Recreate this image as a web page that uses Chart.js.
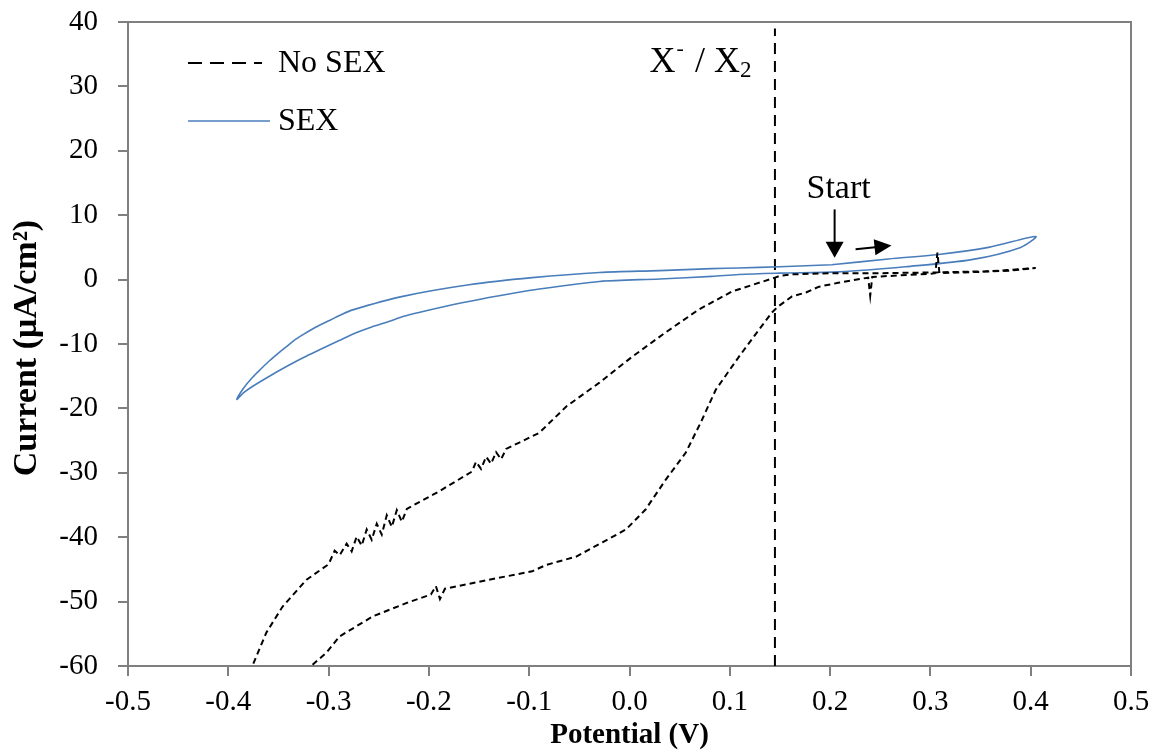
<!DOCTYPE html>
<html>
<head>
<meta charset="utf-8">
<script src="https://cdn.jsdelivr.net/npm/chart.js@4.4.1/dist/chart.umd.min.js"></script>
<style>
  html, body { margin: 0; padding: 0; background: #fff; }
</style>
</head>
<body>
<canvas id="cv" width="1158" height="754"></canvas>
<script>
// axis ticks
const xTickValues = [-0.5, -0.4, -0.3, -0.2, -0.1, 0.0, 0.1, 0.2, 0.3, 0.4, 0.5];
const xTickLabels = ['-0.5', '-0.4', '-0.3', '-0.2', '-0.1', '0.0', '0.1', '0.2', '0.3', '0.4', '0.5'];
const yTickValues = [-60, -50, -40, -30, -20, -10, 0, 10, 20, 30, 40];
const yTickLabels = ['-60', '-50', '-40', '-30', '-20', '-10', '0', '10', '20', '30', '40'];

// "SEX" loop, potential (V) and current (uA/cm2)
const sexV = [0.2015, 0.258, 0.308, 0.358, 0.405, 0.390, 0.341, 0.275, 0.2085, 0.150, 0.109, 0.082, 0.030,
  -0.030, -0.093, -0.130, -0.167, -0.210, -0.225, -0.240, -0.256, -0.272, -0.290, -0.309, -0.325, -0.342,
  -0.359, -0.376, -0.385, -0.3915,
  -0.385, -0.376, -0.367, -0.359, -0.350, -0.342, -0.334, -0.326, -0.313, -0.300, -0.288, -0.276,
  -0.226, -0.160, -0.097, -0.030, 0.030, 0.082, 0.109, 0.150, 0.2015];
const sexI = [2.3, 3.2, 3.9, 5.0, 6.7, 5.0, 3.1, 2.0, 1.2, 1.0, 0.8, 0.5, 0.1,
  -0.3, -1.55, -2.5, -3.6, -5.1, -5.7, -6.5, -7.3, -8.2, -9.5, -10.9, -12.1, -13.5,
  -15.0, -16.6, -17.6, -18.6,
  -16.9, -15.2, -13.8, -12.6, -11.4, -10.4, -9.4, -8.6, -7.4, -6.4, -5.5, -4.7,
  -2.6, -0.8, 0.3, 1.1, 1.4, 1.7, 1.8, 2.0, 2.3];

// "No SEX" scan
const noSexV = [-0.316, -0.302, -0.289, -0.256, -0.222, -0.198, -0.193, -0.189, -0.184, -0.140,
  -0.097, -0.083, -0.053, -0.027, -0.0035, 0.016, 0.036, 0.056, 0.071, 0.086,
  0.109, 0.129, 0.142, 0.148, 0.162, 0.176, 0.189, 0.208, 0.230, 0.238,
  0.240, 0.242, 0.251, 0.300, 0.305, 0.307, 0.309, 0.350, 0.380, 0.405,
  0.360, 0.300, 0.250, 0.200, 0.160, 0.150, 0.145, 0.102, 0.069, 0.036,
  0.0025, -0.030, -0.063, -0.090, -0.123, -0.128, -0.133, -0.138, -0.143, -0.148,
  -0.153, -0.157, -0.190, -0.222, -0.227, -0.232, -0.237, -0.242, -0.247, -0.252,
  -0.257, -0.262, -0.267, -0.272, -0.277, -0.282, -0.289, -0.294, -0.300, -0.322,
  -0.346, -0.362, -0.372, -0.376];
const noSexI = [-59.8, -57.9, -55.4, -52.3, -50.2, -48.9, -47.6, -49.6, -48.0, -46.6,
  -45.3, -44.3, -43.0, -40.8, -38.8, -35.7, -31.1, -26.9, -22.2, -17.1,
  -12.0, -7.8, -5.1, -4.2, -2.6, -2.0, -1.1, -0.5, 0.1, 0.3,
  -2.5, 0.4, 0.5, 0.9, 1.0, 4.2, 1.0, 1.2, 1.4, 1.8,
  1.3, 1.1, 1.0, 1.0, 0.8, 0.6, 0.3, -1.86, -4.66, -8.2,
  -12.0, -16.0, -19.7, -23.8, -26.3, -27.9, -26.8, -28.6, -27.5, -29.4,
  -28.3, -29.8, -32.9, -35.6, -37.6, -35.8, -38.4, -36.6, -39.6, -37.9,
  -40.4, -38.8, -41.3, -39.9, -42.2, -41.0, -42.8, -42.1, -44.2, -46.6,
  -50.8, -54.8, -58.5, -60.0];

// X-/X2 marker potential
const markerV = 0.145;
const yTitle = 'Current (\u03bcA/cm\u00b2)';

const serif = '"Liberation Serif", "Times New Roman", serif';
const axisGray = '#7f7f7f';
const blue = '#4a7ebb';

const toPoints = (xs, ys) => xs.map((v, i) => ({ x: v, y: ys[i] }));

const frame = {
  id: 'frame',
  beforeDatasetsDraw(chart) {
    const { ctx, chartArea: a } = chart;
    ctx.save();
    ctx.strokeStyle = axisGray;
    ctx.lineWidth = 2;
    ctx.beginPath();
    ctx.moveTo(a.left - 10, a.top);
    ctx.lineTo(a.right, a.top);
    ctx.lineTo(a.right, a.bottom);
    ctx.stroke();
    ctx.restore();
  }
};

const overlay = {
  id: 'overlay',
  afterDatasetsDraw(chart) {
    const { ctx, scales: { x, y } } = chart;
    ctx.save();

    // y axis title
    ctx.save();
    ctx.translate(27, 348);
    ctx.rotate(-Math.PI / 2);
    ctx.font = 'bold 34px ' + serif;
    ctx.fillStyle = '#000';
    ctx.textAlign = 'center';
    ctx.textBaseline = 'middle';
    ctx.fillText(yTitle, 0, 0);
    ctx.restore();

    // legend
    const rows = [{ ds: chart.data.datasets[0], y: 63 }, { ds: chart.data.datasets[1], y: 121 }];
    rows.forEach(r => {
      ctx.beginPath();
      ctx.strokeStyle = r.ds.borderColor;
      ctx.lineWidth = r.ds.borderWidth;
      ctx.setLineDash(r.ds.borderDash ? [14, 8] : []);
      ctx.moveTo(188, r.y);
      ctx.lineTo(r.ds.borderDash ? 262 : 270, r.y);
      ctx.stroke();
      ctx.setLineDash([]);
      ctx.fillStyle = '#000';
      ctx.font = '32px ' + serif;
      ctx.textBaseline = 'middle';
      ctx.textAlign = 'left';
      ctx.fillText(r.ds.label, 278, r.y + 1);
    });

    // X- / X2 label
    let px = x.getPixelForValue(0.020);
    const py = y.getPixelForValue(32.2);
    ctx.textBaseline = 'alphabetic';
    ctx.font = '36px ' + serif;
    ctx.fillText('X', px, py);
    px += ctx.measureText('X').width + 1;
    ctx.font = '22px ' + serif;
    ctx.fillText('-', px, py - 17);
    px += ctx.measureText('-').width + 2;
    ctx.font = '36px ' + serif;
    ctx.fillText(' / X', px, py);
    px += ctx.measureText(' / X').width;
    ctx.font = '23px ' + serif;
    ctx.fillText('2', px, py + 5);

    // Start label and arrows
    ctx.font = '34px ' + serif;
    ctx.textAlign = 'center';
    ctx.fillText('Start', x.getPixelForValue(0.2085), y.getPixelForValue(12.6));

    const ax = x.getPixelForValue(0.2045);
    const ay0 = y.getPixelForValue(10.9), ay1 = y.getPixelForValue(3.4);
    ctx.strokeStyle = '#000';
    ctx.fillStyle = '#000';
    ctx.lineWidth = 2;
    ctx.beginPath();
    ctx.moveTo(ax, ay0);
    ctx.lineTo(ax, ay1 - 14);
    ctx.stroke();
    ctx.beginPath();
    ctx.moveTo(ax - 9, ay1 - 16);
    ctx.lineTo(ax + 9, ay1 - 16);
    ctx.lineTo(ax, ay1);
    ctx.closePath();
    ctx.fill();

    const bx0 = x.getPixelForValue(0.2254), by0 = y.getPixelForValue(4.7);
    const bx1 = x.getPixelForValue(0.2612), by1 = y.getPixelForValue(5.3);
    const ang = Math.atan2(by1 - by0, bx1 - bx0);
    ctx.beginPath();
    ctx.moveTo(bx0, by0);
    ctx.lineTo(bx1 - 14 * Math.cos(ang), by1 - 14 * Math.sin(ang));
    ctx.stroke();
    ctx.beginPath();
    ctx.moveTo(bx1, by1);
    ctx.lineTo(bx1 - 17 * Math.cos(ang) - 8 * Math.sin(ang), by1 - 17 * Math.sin(ang) + 8 * Math.cos(ang));
    ctx.lineTo(bx1 - 17 * Math.cos(ang) + 8 * Math.sin(ang), by1 - 17 * Math.sin(ang) - 8 * Math.cos(ang));
    ctx.closePath();
    ctx.fill();

    ctx.restore();
  }
};

new Chart(document.getElementById('cv'), {
  type: 'scatter',
  data: {
    datasets: [
      {
        label: 'No SEX',
        data: toPoints(noSexV, noSexI),
        showLine: true,
        borderColor: '#000',
        borderWidth: 2,
        borderDash: [6, 4],
        pointRadius: 0,
        tension: 0
      },
      {
        label: 'SEX',
        data: toPoints(sexV, sexI),
        showLine: true,
        borderColor: blue,
        borderWidth: 1.6,
        pointRadius: 0,
        tension: 0.3
      },
      {
        label: '',
        data: [{ x: markerV, y: -60 }, { x: markerV, y: 39 }],
        showLine: true,
        borderColor: '#000',
        borderWidth: 2,
        borderDash: [11, 7],
        pointRadius: 0
      }
    ]
  },
  options: {
    responsive: false,
    animation: false,
    layout: { padding: { top: 22, right: 27, left: 0, bottom: 0 } },
    plugins: {
      legend: { display: false },
      tooltip: { enabled: false }
    },
    scales: {
      x: {
        type: 'linear',
        min: -0.5,
        max: 0.5,
        afterBuildTicks: s => { s.ticks = xTickValues.map(v => ({ value: v })); },
        afterFit: s => { s.height = 88; s.paddingLeft = 0; s.paddingRight = 0; },
        ticks: {
          callback: (v, i) => xTickLabels[i],
          font: { family: serif, size: 29 },
          color: '#000',
          padding: 9,
          maxRotation: 0
        },
        grid: { drawOnChartArea: false, tickLength: 10, tickColor: axisGray, lineWidth: 2 },
        border: { color: axisGray, width: 2 },
        title: {
          display: true,
          text: 'Potential (V)',
          font: { family: serif, size: 29, weight: 'bold' },
          color: '#000',
          padding: { top: 0, bottom: 1 }
        }
      },
      y: {
        min: -60,
        max: 40,
        afterBuildTicks: s => { s.ticks = yTickValues.map(v => ({ value: v })); },
        afterFit: s => { s.width = 128; s.paddingTop = 0; s.paddingBottom = 0; },
        ticks: {
          callback: (v, i) => yTickLabels[i],
          font: { family: serif, size: 29 },
          color: '#000',
          padding: 20
        },
        grid: {
          drawOnChartArea: false,
          tickColor: axisGray,
          tickLength: 10,
          lineWidth: 2
        },
        border: { color: axisGray, width: 2 }
      }
    }
  },
  plugins: [frame, overlay]
});
</script>
</body>
</html>
